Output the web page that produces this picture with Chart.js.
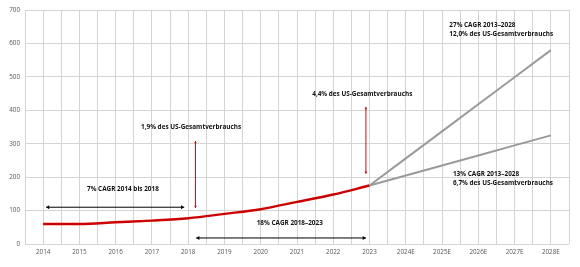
<!DOCTYPE html>
<html>
<head>
<meta charset="utf-8">
<script src="https://cdn.jsdelivr.net/npm/chart.js@4/dist/chart.umd.min.js"></script>
<style>
html,body{margin:0;padding:0;background:#fff;}
#wrap{width:580px;height:267px;position:relative;}
</style>
</head>
<body>
<div id="wrap"><canvas id="c" width="580" height="267"></canvas></div>
<script>
// Categories (x axis tick labels)
const categories = ['2014','2015','2016','2017','2018','2019','2020','2021','2022','2023','2024E','2025E','2026E','2027E','2028E'];
// Historical series (2014–2023)
const historicValues = [60, 60, 65, 70, 77, 90, 104, 126, 148, 175];
// Forecast high scenario (2023–2028E)
const forecastHighValues = [175, 256, 337, 418, 499, 580];
// Forecast low scenario (2023–2028E)
const forecastLowValues = [175, 205, 235, 265, 295, 325];
const forecastStartIndex = 9;
// Y axis ticks
const yTicks = [0, 100, 200, 300, 400, 500, 600, 700];

// Annotation texts anchored in data coordinates (x = category index, y = value)
const annotationTexts = [
  {text: '7% CAGR 2014 bis 2018', x: 2.2, y: 165, align: 'center'},
  {text: '1,9% des US-Gesamtverbrauchs', x: 4.08, y: 350, align: 'center'},
  {text: '18% CAGR 2018–2023', x: 6.8, y: 63, align: 'center'},
  {text: '4,4% des US-Gesamtverbrauchs', x: 8.8, y: 449, align: 'center'},
  {text: '27% CAGR 2013–2028', x: 11.2, y: 655, align: 'left'},
  {text: '12,0% des US-Gesamtverbrauchs', x: 11.2, y: 628, align: 'left'},
  {text: '13% CAGR 2013–2028', x: 11.3, y: 209, align: 'left'},
  {text: '6,7% des US-Gesamtverbrauchs', x: 11.3, y: 182, align: 'left'}
];
// Arrows in data coordinates
const annotationArrows = [
  {x1: 0.08, y1: 110, x2: 3.89, y2: 110, color: '#000000', head: 3.2},
  {x1: 4.22, y1: 18, x2: 8.9, y2: 18, color: '#000000', head: 3.2},
  {x1: 4.2, y1: 108, x2: 4.2, y2: 308, color: '#b8141c', head: 2.2},
  {x1: 8.9, y1: 210, x2: 8.9, y2: 410, color: '#b8141c', head: 2.2}
];

const toPoints = (vals, start) => vals.map((v, i) => ({x: start + i, y: v}));

const annotationPlugin = {
  id: 'annot',
  afterDatasetsDraw(chart) {
    const ctx = chart.ctx;
    const xs = chart.scales.x, ys = chart.scales.y;
    ctx.save();
    annotationArrows.forEach(a => {
      const px1 = xs.getPixelForValue(a.x1), py1 = ys.getPixelForValue(a.y1);
      const px2 = xs.getPixelForValue(a.x2), py2 = ys.getPixelForValue(a.y2);
      ctx.strokeStyle = a.color; ctx.fillStyle = a.color; ctx.lineWidth = 1;
      ctx.beginPath(); ctx.moveTo(px1, py1); ctx.lineTo(px2, py2); ctx.stroke();
      const ang = Math.atan2(py2 - py1, px2 - px1);
      const head = (x, y, an) => {
        const s = a.head, w = a.head * 0.6;
        ctx.beginPath();
        ctx.moveTo(x, y);
        ctx.lineTo(x - s*Math.cos(an) + w*Math.sin(an), y - s*Math.sin(an) - w*Math.cos(an));
        ctx.lineTo(x - s*Math.cos(an) - w*Math.sin(an), y - s*Math.sin(an) + w*Math.cos(an));
        ctx.closePath(); ctx.fill();
      };
      head(px2, py2, ang);
      head(px1, py1, ang + Math.PI);
    });
    ctx.fillStyle = '#111';
    ctx.font = 'bold 6.4px "Open Sans", sans-serif';
    ctx.textBaseline = 'middle';
    annotationTexts.forEach(t => {
      ctx.textAlign = t.align;
      ctx.fillText(t.text, xs.getPixelForValue(t.x), ys.getPixelForValue(t.y));
    });
    ctx.restore();
  }
};

new Chart(document.getElementById('c'), {
  type: 'line',
  data: {
    datasets: [
      {data: toPoints(forecastHighValues, forecastStartIndex), borderColor: '#9a9a9a', borderWidth: 2, pointRadius: 0, tension: 0},
      {data: toPoints(forecastLowValues, forecastStartIndex), borderColor: '#9a9a9a', borderWidth: 2, pointRadius: 0, tension: 0},
      {data: toPoints(historicValues, 0), borderColor: '#cc0000', borderWidth: 2.4, pointRadius: 0, cubicInterpolationMode: 'monotone'}
    ]
  },
  options: {
    responsive: false,
    animation: false,
    devicePixelRatio: 1,
    layout: {padding: {top: 10, right: 11, left: 0, bottom: 0}},
    plugins: {legend: {display: false}, tooltip: {enabled: false}},
    scales: {
      x: {
        type: 'linear', min: -0.5, max: categories.length - 0.5,
        afterBuildTicks(scale) {
          const t = [];
          for (let v = -0.5; v <= categories.length - 0.5 + 1e-9; v += 0.5) t.push({value: v});
          scale.ticks = t;
        },
        afterFit(scale) { scale.height = 23; },
        grid: {color: '#d4d4d4', lineWidth: 1, drawTicks: false},
        border: {display: false},
        ticks: {
          autoSkip: false, maxRotation: 0, padding: 4,
          color: '#555', font: {family: '"Open Sans", sans-serif', size: 6.3},
          callback: v => Number.isInteger(v) && categories[v] !== undefined ? categories[v] : ''
        }
      },
      y: {
        min: 0, max: 700,
        afterBuildTicks(scale) { scale.ticks = yTicks.map(v => ({value: v})); },
        afterFit(scale) { scale.width = 25; },
        grid: {color: '#d4d4d4', lineWidth: 1, drawTicks: false},
        border: {display: false},
        ticks: {padding: 5, color: '#555', font: {family: '"Open Sans", sans-serif', size: 6.3}}
      }
    }
  },
  plugins: [annotationPlugin]
});
</script>
</body>
</html>
